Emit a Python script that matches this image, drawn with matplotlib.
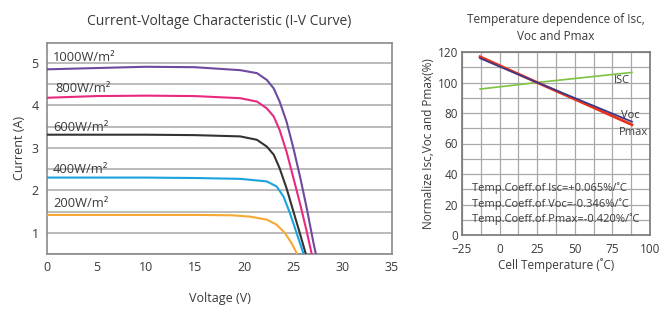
import matplotlib
matplotlib.use("Agg")
import matplotlib.pyplot as plt
import numpy as np

plt.rcParams['font.family'] = ['Open Sans', 'DejaVu Sans']

# ---------------- I-V curve data ----------------
v_1000 = [0, 5, 10, 15, 19.6, 21.3, 22.3, 23.0, 23.6, 24.3, 25.0, 25.7, 26.35, 27.0, 27.5]
i_1000 = [4.85, 4.88, 4.91, 4.90, 4.83, 4.76, 4.60, 4.40, 4.09, 3.62, 2.99, 2.29, 1.58, 0.80, 0.25]
v_800 = [0, 5, 10, 15, 19.6, 21.3, 22.3, 23.0, 23.6, 24.3, 25.0, 25.7, 26.35, 27.0]
i_800 = [4.18, 4.22, 4.23, 4.22, 4.17, 4.09, 3.93, 3.74, 3.42, 2.91, 2.29, 1.66, 1.03, 0.35]
v_600 = [0, 5, 10, 15, 19.6, 21.3, 22.3, 23.0, 23.6, 24.3, 25.0, 25.7, 26.5]
i_600 = [3.31, 3.31, 3.31, 3.30, 3.27, 3.19, 3.03, 2.84, 2.52, 2.05, 1.50, 0.95, 0.30]
v_400 = [0, 5, 10, 15, 19.6, 22.3, 23.3, 24.0, 24.65, 25.33, 26.0, 26.3]
i_400 = [2.30, 2.30, 2.30, 2.29, 2.27, 2.21, 2.09, 1.85, 1.46, 0.99, 0.52, 0.30]
v_200 = [0, 5, 10, 15.5, 18.9, 20.6, 22.3, 23.3, 24.15, 24.8, 25.33, 25.6]
i_200 = [1.42, 1.42, 1.42, 1.42, 1.41, 1.38, 1.31, 1.19, 0.99, 0.76, 0.52, 0.38]
iv_labels = ["1000W/m\u00b2", "800W/m\u00b2", "600W/m\u00b2", "400W/m\u00b2", "200W/m\u00b2"]
iv_label_pos = [(0.6, 5.14), (0.9, 4.41), (0.6, 3.49), (0.6, 2.50), (0.6, 1.70)]
iv_colors = ["#6c4a9e", "#e8297f", "#333333", "#1aa3dc", "#f6a833"]
v_ticks = [0, 5, 10, 15, 20, 25, 30, 35]
i_ticks = [1, 2, 3, 4, 5]

# ---------------- Temperature data ----------------
temp = [-13, 25, 88]
isc_pct = [95.7, 100, 106.6]
voc_pct = [115.9, 100, 74.3]
pmax_pct = [116.9, 100, 72.3]
t_ticks = [-25, 0, 25, 50, 75, 100]
p_ticks = [0, 20, 40, 60, 80, 100, 120]
coeff_lines = ["Temp.Coeff.of Isc=+0.065%/\u02daC",
               "Temp.Coeff.of Voc=-0.346%/\u02daC",
               "Temp.Coeff.of Pmax=-0.420%/\u02daC"]

txt = "#3a3a3a"
gridc = "#a8a8a8"
spinec = "#8a8a8a"

fig = plt.figure(figsize=(6.71, 3.09), dpi=100)

# ---------- Left chart ----------
ax = fig.add_axes([47/671, 1-254/309, (392-47)/671, (254-43)/309])
series = [(v_1000, i_1000), (v_800, i_800), (v_600, i_600), (v_400, i_400), (v_200, i_200)]
for (v, i), c in zip(series, iv_colors):
    ax.plot(v, i, color=c, lw=1.5, solid_capstyle='round', solid_joinstyle='round', zorder=3)
for lab, (x, y) in zip(iv_labels, iv_label_pos):
    ax.text(x, y, lab, fontsize=9.3, color=txt, va='center', ha='left', zorder=4)
ax.set_xlim(0, 35)
ax.set_ylim(0.5, 5.47)
ax.set_xticks(v_ticks)
ax.set_yticks(i_ticks)
ax.set_yticks(np.arange(0.5, 5.5, 0.5), minor=True)
ax.yaxis.grid(True, which='both', color=gridc, lw=1.1)
ax.xaxis.grid(False)
ax.set_axisbelow(True)
ax.tick_params(axis='both', which='both', length=0, labelsize=9, colors=txt)
ax.tick_params(axis='x', pad=5)
ax.tick_params(axis='y', pad=6)
for s in ax.spines.values():
    s.set_color(spinec)
    s.set_linewidth(1.2)
ax.set_xlabel("Voltage (V)", fontsize=9, color=txt, labelpad=13)
ax.set_ylabel("Current (A)", fontsize=9, color=txt, labelpad=4)
ax.set_title("Current-Voltage Characteristic (I-V Curve)", fontsize=10, color=txt, pad=13)

# ---------- Right chart ----------
ax2 = fig.add_axes([462/671, 1-235/309, (650-462)/671, (235-52)/309])
ax2.plot(temp, isc_pct, color="#7fc241", lw=1.2, zorder=3)
ax2.plot(temp, pmax_pct, color="#e8321e", lw=2.0, zorder=3)
ax2.plot(temp, voc_pct, color="#3f3a86", lw=1.3, zorder=4)
ax2.text(81, 101.5, "ISC", fontsize=8, color=txt, ha='center', va='center', zorder=5)
ax2.text(87, 78.5, "Voc", fontsize=8, color=txt, ha='center', va='center', zorder=5)
ax2.text(89, 67.5, "Pmax", fontsize=8, color=txt, ha='center', va='center', zorder=5)
for k, line in enumerate(coeff_lines):
    ax2.text(-18.5, 30.5 - 10*k, line, fontsize=8, color=txt, ha='left', va='center', zorder=5)
ax2.set_xlim(-25, 100)
ax2.set_ylim(0, 120)
ax2.set_xticks(t_ticks)
ax2.set_xticks(np.arange(-25, 100.1, 12.5), minor=True)
ax2.set_yticks(p_ticks)
ax2.set_yticks(np.arange(0, 121, 10), minor=True)
ax2.grid(True, which='both', color=gridc, lw=0.9)
ax2.set_axisbelow(True)
ax2.tick_params(axis='both', which='both', length=0, labelsize=8.5, colors=txt)
ax2.tick_params(axis='x', pad=6)
ax2.tick_params(axis='y', pad=3)
for s in ax2.spines.values():
    s.set_color("#777777")
    s.set_linewidth(1.2)
ax2.set_xlabel("Cell Temperature (\u02daC)", fontsize=8.5, color=txt, labelpad=1)
ax2.set_ylabel("Normalize Isc,Voc and Pmax(%)", fontsize=8.5, color=txt, labelpad=2)
ax2.set_title("Temperature dependence of Isc,\nVoc and Pmax", fontsize=8.5, color=txt, pad=9,
              linespacing=1.4)

fig.savefig("out.png", dpi=100)
